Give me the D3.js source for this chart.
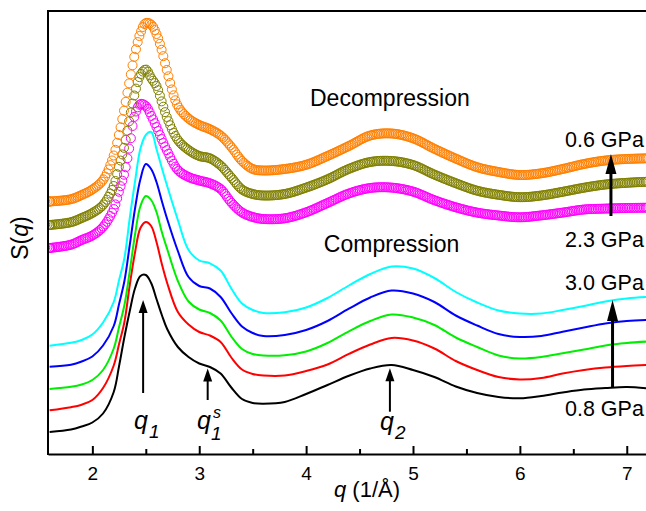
<!DOCTYPE html>
<html><head><meta charset="utf-8">
<script src="https://cdn.jsdelivr.net/npm/d3@7/dist/d3.min.js"></script>
<style>
html,body{margin:0;padding:0;background:#fff;}
svg{display:block;font-family:"Liberation Sans",Arial,sans-serif;}
</style></head>
<body><svg id="chart" width="646" height="511"></svg>
<script>
// ---------- data (S(q), arbitrary units, vertically offset) ----------
const qValues = [1.6,1.8,1.9,2.0,2.1,2.2,2.25,2.3,2.35,2.4,2.45,2.5,2.55,2.6,2.65,2.7,2.8,2.9,3.0,3.1,3.2,3.3,3.4,3.5,3.6,3.8,4.0,4.2,4.4,4.6,4.8,5.0,5.2,5.4,5.6,5.8,6.0,6.2,6.4,6.6,6.8,7.0,7.2];

// compression
const comp08 = [0.22,0.245,0.275,0.315,0.405,0.62,0.88,1.17,1.43,1.66,1.78,1.79,1.71,1.55,1.39,1.25,1.07,0.97,0.905,0.87,0.805,0.665,0.55,0.51,0.503,0.52,0.6,0.69,0.782,0.855,0.89,0.84,0.77,0.675,0.61,0.57,0.557,0.58,0.615,0.645,0.66,0.67,0.655];
const comp1 = [0.437,0.468,0.493,0.54,0.66,0.885,1.10,1.32,1.69,2.02,2.26,2.32,2.28,2.12,1.90,1.71,1.42,1.295,1.22,1.185,1.12,0.965,0.845,0.80,0.785,0.785,0.83,0.895,1.001,1.095,1.16,1.135,1.055,0.93,0.84,0.77,0.745,0.76,0.805,0.84,0.865,0.88,0.89];
const comp2 = [0.65,0.672,0.695,0.74,0.84,1.055,1.27,1.49,1.83,2.20,2.48,2.58,2.54,2.42,2.22,2.05,1.73,1.525,1.445,1.41,1.335,1.175,1.05,1.00,0.985,0.987,1.025,1.11,1.227,1.33,1.395,1.365,1.29,1.165,1.07,0.985,0.955,0.97,1.007,1.045,1.085,1.11,1.125];
const comp3 = [0.873,0.893,0.925,0.975,1.085,1.28,1.50,1.73,2.09,2.46,2.75,2.90,2.85,2.72,2.53,2.35,2.03,1.77,1.68,1.655,1.57,1.41,1.275,1.21,1.18,1.19,1.24,1.33,1.453,1.565,1.635,1.605,1.52,1.385,1.285,1.20,1.17,1.18,1.223,1.265,1.305,1.33,1.34];
const comp30 = [1.083,1.112,1.14,1.195,1.315,1.52,1.74,1.96,2.36,2.73,3.055,3.19,3.22,3.05,2.86,2.68,2.34,2.04,1.935,1.907,1.835,1.655,1.505,1.44,1.41,1.417,1.465,1.56,1.685,1.80,1.875,1.855,1.76,1.62,1.515,1.435,1.405,1.405,1.44,1.48,1.525,1.555,1.57];

// decompression
const decomp23 = [2.06,2.093,2.14,2.185,2.27,2.45,2.63,2.81,3.09,3.40,3.50,3.48,3.385,3.27,3.145,3.03,2.84,2.77,2.735,2.707,2.65,2.515,2.415,2.37,2.35,2.357,2.417,2.51,2.605,2.66,2.664,2.624,2.538,2.467,2.414,2.385,2.367,2.386,2.414,2.445,2.454,2.46,2.463];
const decompMid = [2.29,2.318,2.36,2.41,2.49,2.68,2.88,3.08,3.36,3.62,3.79,3.845,3.76,3.68,3.52,3.36,3.14,3.04,2.98,2.957,2.885,2.765,2.645,2.60,2.585,2.60,2.664,2.747,2.851,2.92,2.93,2.89,2.794,2.708,2.633,2.592,2.568,2.585,2.622,2.663,2.695,2.712,2.723];
const decomp06 = [2.525,2.548,2.59,2.645,2.74,2.985,3.20,3.455,3.74,4.01,4.21,4.31,4.295,4.20,4.035,3.825,3.48,3.355,3.29,3.248,3.185,3.07,2.93,2.85,2.835,2.85,2.892,2.98,3.08,3.185,3.205,3.157,3.052,2.954,2.868,2.82,2.79,2.807,2.85,2.90,2.935,2.95,2.957];

const xTicks = [2,3,4,5,6,7];
const xMinorTicks = [2.5,3.5,4.5,5.5,6.5];

const lineSeries = [
  {name:"0.8 GPa", values: comp08, color:"#000000"},
  {name:"comp 1", values: comp1, color:"#FF0000"},
  {name:"comp 2", values: comp2, color:"#00EE00"},
  {name:"comp 3", values: comp3, color:"#0000FF"},
  {name:"3.0 GPa", values: comp30, color:"#00FFFF"}
];
const markerSeries = [
  {name:"2.3 GPa", values: decomp23, color:"#FF00FF"},
  {name:"decomp mid", values: decompMid, color:"#808000"},
  {name:"0.6 GPa", values: decomp06, color:"#FF8000"}
];

// ---------- chart ----------
const svg = d3.select("#chart");
const L = 48, T = 11, B = 454, R = 646;
const x = d3.scaleLinear().domain([1.585, 7.18]).range([L, R]);
const y = d3.scaleLinear().domain([0, 4.43]).range([B, T]);

svg.append("defs").append("clipPath").attr("id","plotclip")
  .append("rect").attr("x",L).attr("y",T).attr("width",R-L+10).attr("height",B-T);

const plot = svg.append("g").attr("clip-path","url(#plotclip)");
const line = d3.line().x((d,i)=>x(qValues[i])).y(d=>y(d)).curve(d3.curveCatmullRom.alpha(0.5));

// decompression: open circle markers along each series
markerSeries.forEach(s => {
  const p = plot.append("path").attr("d", line(s.values)).attr("fill","none").attr("stroke","none");
  const node = p.node();
  const total = node.getTotalLength();
  const pts = [];
  for (let q = 1.56; q <= 7.2; q += 0.016) {
    const px = x(q);
    let lo = 0, hi = total;
    for (let k = 0; k < 30; k++) {
      const mid = (lo+hi)/2;
      if (node.getPointAtLength(mid).x < px) lo = mid; else hi = mid;
    }
    pts.push(node.getPointAtLength((lo+hi)/2));
  }
  plot.append("g").selectAll("circle").data(pts).join("circle")
    .attr("cx", d=>d.x).attr("cy", d=>d.y).attr("r", 4.5)
    .attr("fill","none").attr("stroke", s.color).attr("stroke-width", 1);
});

lineSeries.forEach(s => {
  plot.append("path").attr("d", line(s.values)).attr("fill","none")
    .attr("stroke", s.color).attr("stroke-width", 2).attr("stroke-linejoin","round");
});

// frame
svg.append("line").attr("x1",L).attr("x2",R).attr("y1",T).attr("y2",T).attr("stroke","#000").attr("stroke-width",2);
svg.append("line").attr("x1",L).attr("x2",L).attr("y1",T-1).attr("y2",B+1).attr("stroke","#000").attr("stroke-width",2);

// x axis
const xAxis = svg.append("g").attr("transform",`translate(0,${B})`)
  .call(d3.axisBottom(x).tickValues(xTicks).tickSizeInner(-8).tickSizeOuter(0).tickFormat(d3.format("d")));
xAxis.select(".domain").attr("stroke-width",2);
xAxis.selectAll(".tick line").attr("stroke-width",2);
xAxis.selectAll("text").attr("font-size",19).attr("font-family","Liberation Sans, Arial, sans-serif")
  .attr("fill","#000").attr("y",26).attr("dy",0);
const xMinor = svg.append("g").attr("transform",`translate(0,${B})`)
  .call(d3.axisBottom(x).tickValues(xMinorTicks).tickSizeInner(-5).tickSizeOuter(0).tickFormat(""));
xMinor.select(".domain").remove();
xMinor.selectAll(".tick line").attr("stroke-width",2);

// axis titles
const xt = svg.append("text").attr("x",367).attr("y",497).attr("text-anchor","middle").attr("font-size",22);
xt.append("tspan").attr("font-style","italic").text("q");
xt.append("tspan").text(" (1/Å)");
const yt = svg.append("text").attr("transform","translate(28,238) rotate(-90)").attr("text-anchor","middle").attr("font-size",23);
yt.append("tspan").text("S(");
yt.append("tspan").attr("font-style","italic").text("q");
yt.append("tspan").text(")");

// annotations
function arrow(q, v0, v1, sw, hl, hw) {
  const xx = x(q), y0 = y(v0), y1 = y(v1);
  svg.append("line").attr("x1",xx).attr("x2",xx).attr("y1",y0).attr("y2",y1+hl-1)
    .attr("stroke","#000").attr("stroke-width",sw);
  svg.append("path").attr("d",`M${xx},${y1} L${xx-hw/2},${y1+hl} L${xx+hw/2},${y1+hl} Z`).attr("fill","#000");
}
arrow(6.852, 2.38, 3.00, 3, 20, 11);
arrow(6.867, 0.66, 1.54, 3, 21, 11);
arrow(2.475, 0.61, 1.54, 2, 13, 9);
arrow(3.079, 0.54, 0.855, 2, 13, 9);
arrow(4.784, 0.423, 0.857, 2, 13, 9);

svg.append("text").attr("x",x(4.784)).attr("y",106).attr("text-anchor","middle").attr("font-size",23).text("Decompression");
svg.append("text").attr("x",x(4.80)).attr("y",252).attr("text-anchor","middle").attr("font-size",23).text("Compression");

const gpa = [["0.6 GPa",147],["2.3 GPa",247],["3.0 GPa",290],["0.8 GPa",416]];
gpa.forEach(g => svg.append("text").attr("x",565).attr("y",g[1]).attr("font-size",21.5).text(g[0]));

// q labels: italic q with subscript (and optional superscript)
function qLabel(xq, base, sub, sup) {
  const t = svg.append("text").attr("x",xq).attr("y",base).attr("font-size",25).attr("font-style","italic");
  t.append("tspan").text("q");
  if (sup) {
    t.append("tspan").attr("font-size",16).attr("dx",2).attr("dy",-11).text(sup);
    t.append("tspan").attr("font-size",19).attr("dx",-10).attr("dy",22).text(sub);
  } else {
    t.append("tspan").attr("font-size",19).attr("dx",1).attr("dy",9).text(sub);
  }
}
qLabel(134, 429, "1");
qLabel(197, 429, "1", "s");
qLabel(380, 430, "2");
</script></body></html>
